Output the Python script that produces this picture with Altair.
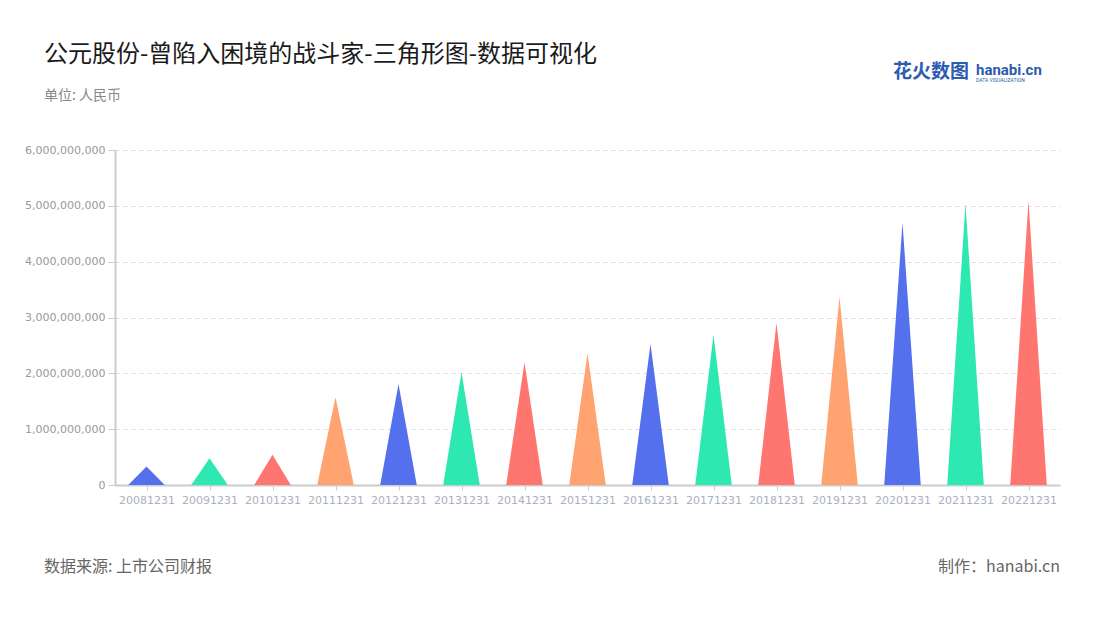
import altair as alt
import pandas as pd

categories = ["20081231", "20091231", "20101231", "20111231", "20121231",
              "20131231", "20141231", "20151231", "20161231", "20171231",
              "20181231", "20191231", "20201231", "20211231", "20221231"]
values = [0.33e9, 0.48e9, 0.54e9, 1.57e9, 1.81e9,
          2.02e9, 2.20e9, 2.36e9, 2.53e9, 2.69e9,
          2.90e9, 3.37e9, 4.70e9, 5.04e9, 5.09e9]
palette = ["#5470EC", "#2DE8B0", "#FF7570", "#FFA370"]
y_ticks = [0, 1e9, 2e9, 3e9, 4e9, 5e9, 6e9]

title_text = "公元股份-曾陷入困境的战斗家-三角形图-数据可视化"
unit_text = "单位: 人民币"
source_text = "数据来源: 上市公司财报"
maker_text = "制作：hanabi.cn"

HALF = 0.29  # half base width of each triangle, in category units

rows = []
for i, (c, v) in enumerate(zip(categories, values)):
    col = palette[i % len(palette)]
    rows.append({"cat": c, "color": col, "x": i - HALF, "y": 0.0, "o": 0})
    rows.append({"cat": c, "color": col, "x": i, "y": v, "o": 1})
    rows.append({"cat": c, "color": col, "x": i + HALF, "y": 0.0, "o": 2})
df = pd.DataFrame(rows)

label_expr = "[" + ",".join("'%s'" % c for c in categories) + "][datum.value]"

tri = alt.Chart(df).mark_area(interpolate="linear", opacity=1).encode(
    x=alt.X("x:Q",
            scale=alt.Scale(domain=[-0.5, len(categories) - 0.5], nice=False, zero=False),
            axis=alt.Axis(values=list(range(len(categories))), labelExpr=label_expr,
                          title=None, grid=False, domainColor="#cccccc", domainWidth=2,
                          tickColor="#cccccc", tickSize=5, labelColor="#aab0be",
                          labelFont="DejaVu Sans", labelFontSize=11, labelPadding=4,
                          labelFlush=False, labelOverlap=False)),
    y=alt.Y("y:Q",
            scale=alt.Scale(domain=[0, 6e9], nice=False),
            axis=alt.Axis(values=y_ticks, format=",d", title=None, grid=True,
                          gridDash=[4, 4], gridColor="#dddddd", domainColor="#cccccc",
                          domainWidth=2, tickColor="#cccccc", tickSize=7,
                          labelColor="#999999", labelFont="DejaVu Sans",
                          labelFontSize=11, labelPadding=3)),
    color=alt.Color("color:N", scale=None, legend=None),
    detail="cat:N",
    order="o:Q",
)


def txt(t, x, y, size, color, align="left", weight="normal", font="Noto Sans CJK SC"):
    return alt.Chart(pd.DataFrame({"t": [t]})).mark_text(
        align=align, baseline="middle", fontSize=size, color=color,
        fontWeight=weight, font=font
    ).encode(text="t:N", x=alt.value(x), y=alt.value(y))


layers = [
    tri,
    txt(title_text, -71, -95, 24, "#1a1a1a"),
    txt(unit_text, -71, -54, 14, "#888888"),
    txt(source_text, -71, 417, 16, "#666666"),
    txt(maker_text, 945, 417, 16, "#666666", align="right"),
    txt("花火数图", 778, -78, 19, "#2C5BB0", weight="bold"),
    txt("hanabi.cn", 861, -80, 15, "#2C5BB0", weight="bold", font="Roboto"),
    txt("DATA VISUALIZATION", 861, -70, 5, "#2C5BB0", font="Roboto"),
]

chart = alt.layer(*layers).properties(
    width=945, height=335,
    background="white",
    autosize=alt.AutoSizeParams(type="none"),
    padding={"left": 107, "top": 142, "right": 32, "bottom": 110},
).configure_view(stroke=None)

chart.save("out.html", embed_options={"renderer": "svg", "actions": False})
